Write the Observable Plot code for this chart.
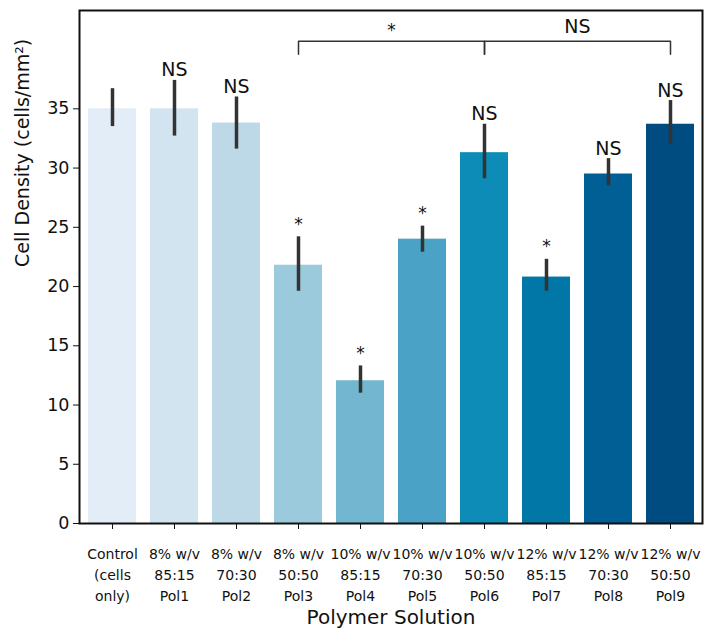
<!DOCTYPE html>
<html>
<head>
<meta charset="utf-8">
<script src="https://cdn.jsdelivr.net/npm/d3@7"></script>
<script src="https://cdn.jsdelivr.net/npm/@observablehq/plot@0.6"></script>
<style>
  body { margin: 0; background: #fff; }
  #chart svg { display: block; }
</style>
</head>
<body>
<div id="chart"></div>
<script>
const categories = ["Control", "Pol1", "Pol2", "Pol3", "Pol4", "Pol5", "Pol6", "Pol7", "Pol8", "Pol9"];
const tickLabels = [
  "Control\n(cells\nonly)",
  "8% w/v\n85:15\nPol1",
  "8% w/v\n70:30\nPol2",
  "8% w/v\n50:50\nPol3",
  "10% w/v\n85:15\nPol4",
  "10% w/v\n70:30\nPol5",
  "10% w/v\n50:50\nPol6",
  "12% w/v\n85:15\nPol7",
  "12% w/v\n70:30\nPol8",
  "12% w/v\n50:50\nPol9"
];
const means   = [35.0, 35.0, 33.8, 21.8, 12.05, 24.0, 31.3, 20.8, 29.5, 33.7];
const errLow  = [33.5, 32.7, 31.6, 19.6, 11.0, 22.9, 29.1, 19.6, 28.5, 32.0];
const errHigh = [36.7, 37.4, 36.0, 24.2, 13.3, 25.1, 33.7, 22.3, 30.8, 35.7];
const sigLabels = ["", "NS", "NS", "*", "*", "*", "NS", "*", "NS", "NS"];
const colors = ["#e2edf7", "#d2e4f0", "#bdd9e7", "#9ccadd", "#72b6d0", "#4aa3c6", "#0c8cb6", "#0077a7", "#025f96", "#004b80"];

const yTicks = [0, 5, 10, 15, 20, 25, 30, 35];
const yLabel = "Cell Density (cells/mm²)";
const xLabel = "Polymer Solution";

// brackets: Pol3 -> Pol6 ("*"), Pol6 -> Pol9 ("NS")
const bracketLow = 39.6, bracketHigh = 40.7;
const bracketLeft = [
  {x: "Pol3", y: bracketLow}, {x: "Pol3", y: bracketHigh},
  {x: "Pol6", y: bracketHigh}, {x: "Pol6", y: bracketLow}
];
const bracketRight = [
  {x: "Pol6", y: bracketLow}, {x: "Pol6", y: bracketHigh},
  {x: "Pol9", y: bracketHigh}, {x: "Pol9", y: bracketLow}
];
const bracketTexts = [
  {x: "Pol4", label: "*", y: 41.9},
  {x: "Pol7", label: "NS", y: 41.9}
];

const data = categories.map((c, i) => ({
  cat: c, mean: means[i], lo: errLow[i], hi: errHigh[i], sig: sigLabels[i], color: colors[i]
}));
const labelMap = new Map(categories.map((c, i) => [c, tickLabels[i]]));

const chart = Plot.plot({
  width: 714,
  height: 642,
  marginLeft: 79,
  marginRight: 12,
  marginTop: 10,
  marginBottom: 119,
  style: {fontFamily: "'DejaVu Sans', sans-serif", fontSize: "17px", color: "#111"},
  x: {domain: categories, paddingInner: 0.23, paddingOuter: 0.115},
  y: {domain: [0, 43.3]},
  marks: [
    Plot.barY(data, {x: "cat", y: "mean", fill: "color"}),
    Plot.ruleX(data, {x: "cat", y1: "lo", y2: "hi", stroke: "#333", strokeWidth: 3.5}),
    Plot.text(data.filter(d => d.sig === "NS"), {x: "cat", y: "hi", text: "sig", lineAnchor: "bottom", dy: -4, fontSize: 19, fill: "#111"}),
    Plot.text(data.filter(d => d.sig === "*"), {x: "cat", y: "hi", text: "sig", lineAnchor: "bottom", dy: -7, fontSize: 17, fill: "#111"}),
    Plot.line(bracketLeft, {x: "x", y: "y", stroke: "#333", strokeWidth: 1.5, curve: "linear"}),
    Plot.line(bracketRight, {x: "x", y: "y", stroke: "#333", strokeWidth: 1.5, curve: "linear"}),
    Plot.text(bracketTexts.slice(0, 1), {x: "x", y: "y", text: "label", dx: 31, fontSize: 17, fill: "#111", dy: 3}),
    Plot.text(bracketTexts.slice(1), {x: "x", y: "y", text: "label", dx: 31, fontSize: 19, fill: "#111"}),
    Plot.axisY({ticks: yTicks, tickSize: 6, tickPadding: 4, label: null, fontSize: 17.5}),
    Plot.axisX({tickFormat: d => labelMap.get(d), tickSize: 6, tickPadding: 15, lineHeight: 1.5, label: null, fontSize: 14, lineAnchor: "top"}),
    Plot.text([yLabel], {frameAnchor: "left", dx: -57, rotate: -90, fontSize: 19, fill: "#111"}),
    Plot.text([xLabel], {frameAnchor: "bottom", dy: 100, fontSize: 20, fill: "#111"}),
    Plot.frame({stroke: "#111", strokeWidth: 2})
  ]
});
document.getElementById("chart").appendChild(chart);
</script>
</body>
</html>
